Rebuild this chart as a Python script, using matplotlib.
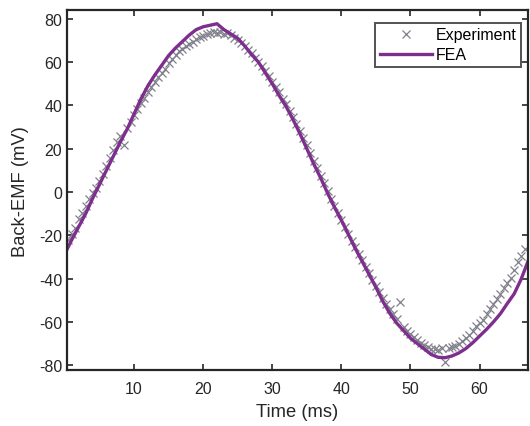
import matplotlib
matplotlib.use("Agg")
import matplotlib.pyplot as plt

plt.rcParams['font.family'] = ['Liberation Sans', 'DejaVu Sans']
plt.rcParams['axes.unicode_minus'] = False

# FEA back-EMF (ms, mV)
fea_t = [0.3, 1, 2, 3, 4, 5, 6, 7, 8, 9, 10, 11, 12, 13, 14, 15, 16, 17, 18, 19,
         20, 21, 22, 23, 24, 25, 26, 27, 28, 29, 30, 31, 32, 33, 34, 35, 36, 37, 38, 39,
         40, 41, 42, 43, 44, 45, 46, 47, 48, 49, 50, 51, 52, 53, 54, 55, 56, 57, 58, 59,
         60, 61, 62, 63, 64, 65, 66, 67]
fea_v = [-26.5, -22, -16, -10, -3, 3.5, 10, 16.5, 23, 29, 36, 43, 49, 54, 58.5, 63, 66.5, 69.5, 72.5, 75,
         76.3, 77, 77.7, 75, 73, 71, 67.5, 63.5, 60, 55, 50, 44.5, 39.5, 33.5, 27, 20, 13, 6.5, -0.5, -7,
         -13, -19.5, -26, -32, -38, -44, -50.5, -56, -60.5, -64, -67.5, -70, -72.5, -75, -76.3, -76.5, -75.7, -74.3, -72.3, -69.6,
         -66.5, -63.4, -60, -56.2, -51.5, -47, -40.3, -32]

# measured back-EMF, sampled every 0.5 ms
exp_t = [0.5 * i for i in range(1, 134)]
exp_v = [-22, -19.5, -16.5, -12.5, -9.5, -6.5, -3, -0.5, 2, 5,
         8.5, 12, 15.5, 19.5, 23, 26, 21.5, 29.5, 32.5, 35.5,
         38.5, 41, 43.5, 46, 48.5, 51, 53, 55, 57, 59.5,
         61.5, 63.5, 65, 66, 67.5, 68.5, 69.5, 70.5, 71.5, 72,
         73, 73.5, 74, 73.5, 74, 73, 73.5, 72.5, 71, 70,
         69, 67.5, 65.5, 64, 62, 60, 58, 56, 53.5, 51,
         48.5, 46, 43, 40.5, 37.5, 34.5, 31.5, 28, 25, 21.5,
         18, 14.5, 11, 7.5, 4, 0.5, -3, -6.5, -9.5, -13,
         -16, -19.5, -22.5, -25.5, -28.5, -31.5, -34.5, -37.5, -40.5, -43.5,
         -46, -49, -51.5, -54, -56.5, -58.5, -51, -62.5, -64, -65.5,
         -67, -68.5, -69.5, -70.5, -71.5, -72.5, -72.5, -73, -72, -78.5,
         -72, -71.5, -71, -70, -69, -67.5, -66, -64, -62, -60.5,
         -59, -56.5, -54, -51.5, -49.5, -47, -44.5, -42, -39.5, -36,
         -32.5, -29.5, -26.5]

x_ticks = [10, 20, 30, 40, 50, 60]
y_ticks = [-80, -60, -40, -20, 0, 20, 40, 60, 80]

fig = plt.figure(figsize=(5.3, 4.27), dpi=100)
ax = fig.add_axes([0.1264, 0.131, 0.8698, 0.843])

ax.plot(exp_t, exp_v, 'x', color='#80808c', markersize=5.8, markeredgewidth=0.9,
        label='Experiment')
ax.plot(fea_t, fea_v, '-', color='#7e2f8e', linewidth=2.4, label='FEA')

ax.set_xlim(0.3, 67)
ax.set_ylim(-82.2, 84)
ax.set_xticks(x_ticks)
ax.set_yticks(y_ticks)
ax.tick_params(direction='in', top=True, right=True, length=4, width=1.2,
               labelsize=11.5, colors='#262626')
ax.tick_params(axis='x', pad=8)
for s in ax.spines.values():
    s.set_linewidth(1.6)
    s.set_color('#262626')

ax.set_xlabel('Time (ms)', fontsize=13.2, color='#262626', labelpad=5)
ax.set_ylabel('Back-EMF (mV)', fontsize=13.2, color='#262626', labelpad=7)

leg = ax.legend(loc='upper right', bbox_to_anchor=(0.985, 0.965), fontsize=11.5,
                frameon=True, fancybox=False, handlelength=3.3, handletextpad=0.2,
                borderpad=0.3, labelspacing=0.3, borderaxespad=0.0)
leg.get_frame().set_edgecolor('#262626')
leg.get_frame().set_linewidth(1.4)

fig.savefig('out.png', dpi=100)
